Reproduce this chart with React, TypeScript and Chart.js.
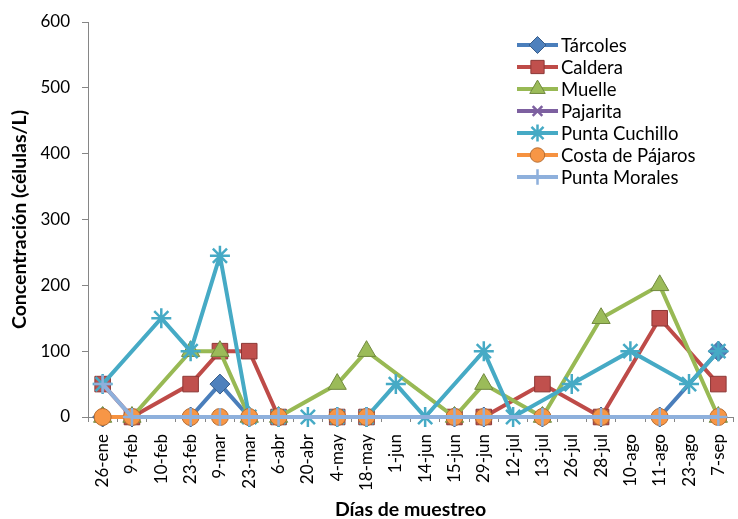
import React, { useEffect, useRef } from 'react';
import { Chart, registerables } from 'chart.js';
import { drawPoint } from 'chart.js/helpers';

Chart.register(...registerables);

const categories = [
  '26-ene', '9-feb', '10-feb', '23-feb', '9-mar', '23-mar', '6-abr', '20-abr', '4-may', '18-may', '1-jun',
  '14-jun', '15-jun', '29-jun', '12-jul', '13-jul', '26-jul', '28-jul', '10-ago', '11-ago', '23-ago', '7-sep',
];

const tarcoles = [0, 0, null, 0, 50, 0, 0, null, 0, 0, null, null, 0, 0, null, 0, null, 0, null, 0, null, 100];
const caldera = [50, 0, null, 50, 100, 100, 0, null, 0, 0, null, null, 0, 0, null, 50, null, 0, null, 150, null, 50];
const muelle = [0, 0, null, 100, 100, 0, 0, null, 50, 100, null, null, 0, 50, null, 0, null, 150, null, 200, null, 0];
const pajarita = [0, 0, null, 0, 0, 0, 0, null, 0, 0, null, null, 0, 0, null, 0, null, 0, null, 0, null, 0];
const puntaCuchillo = [50, null, 150, 100, 245, 0, 0, 0, 0, 0, 50, 0, null, 100, 0, null, 50, null, 100, null, 50, 100];
const costaPajaros = [0, 0, null, 0, 0, 0, 0, null, 0, 0, null, null, 0, 0, null, 0, null, 0, null, 0, null, 0];
const puntaMorales = [50, 0, null, 0, 0, 0, 0, null, 0, 0, null, null, 0, 0, null, 0, null, 0, null, 0, null, 0];

const yTicks = [0, 100, 200, 300, 400, 500, 600];

const FONT = 'Lato, "Noto Sans", sans-serif';

const legendPlugin = {
  id: 'insideLegend',
  afterDraw(chart: any) {
    const ctx = chart.ctx;
    chart.data.datasets.forEach((ds: any, i: number) => {
      const y = 45 + i * 22;
      ctx.save();
      ctx.strokeStyle = ds.borderColor;
      ctx.lineWidth = 4;
      ctx.beginPath();
      ctx.moveTo(517, y);
      ctx.lineTo(558, y);
      ctx.stroke();
      ctx.fillStyle = ds.pointBackgroundColor;
      ctx.strokeStyle = ds.pointBorderColor;
      ctx.lineWidth = ds.pointBorderWidth;
      drawPoint(ctx, { pointStyle: ds.pointStyle, radius: ds.pointRadius * 0.85, rotation: 0, borderWidth: ds.pointBorderWidth } as any, 537.5, y);
      ctx.fillStyle = '#000';
      ctx.font = '18.5px ' + FONT;
      ctx.textBaseline = 'middle';
      ctx.textAlign = 'left';
      ctx.fillText(ds.label, 561, y + 1);
      ctx.restore();
    });
  },
};

function series(label: string, data: (number | null)[], line: string, fill: string, border: string, style: string, radius: number, bw: number, order: number) {
  return {
    label,
    data,
    borderColor: line,
    backgroundColor: line,
    borderWidth: 4,
    pointStyle: style,
    pointRadius: radius,
    pointBackgroundColor: fill,
    pointBorderColor: border,
    pointBorderWidth: bw,
    spanGaps: true,
    tension: 0,
    clip: false,
    order,
  };
}

export default function App() {
  const ref = useRef<HTMLCanvasElement>(null);
  useEffect(() => {
    if (!ref.current) return;
    const chart = new Chart(ref.current, {
      type: 'line',
      data: {
        labels: categories,
        datasets: [
          series('Tárcoles', tarcoles, '#4A7EBB', '#4F81BD', '#385D8A', 'rectRot', 10, 1, 7),
          series('Caldera', caldera, '#BE4B48', '#C0504D', '#8C3836', 'rect', 11, 1, 6),
          series('Muelle', muelle, '#98B954', '#9BBB59', '#71893F', 'triangle', 10.5, 1, 5),
          series('Pajarita', pajarita, '#7D60A0', '#8064A2', '#7D60A0', 'crossRot', 8, 2.5, 4),
          series('Punta Cuchillo', puntaCuchillo, '#46AAC5', '#4BACC6', '#46AAC5', 'star', 10, 2.5, 3),
          series('Costa de Pájaros', costaPajaros, '#F69240', '#F79646', '#B66D31', 'circle', 8.5, 1, 2),
          series('Punta Morales', puntaMorales, '#8EB0DC', '#95B3D7', '#8EB0DC', 'cross', 9, 2.5, 1),
        ],
      },
      options: {
        animation: false,
        responsive: true,
        maintainAspectRatio: false,
        layout: { autoPadding: false, padding: { top: 22, right: 5, left: 0, bottom: 0 } },
        plugins: { legend: { display: false }, tooltip: { enabled: false } },
        scales: {
          x: {
            offset: true,
            grid: { offset: true, drawOnChartArea: false, tickLength: 5, color: '#868686' },
            border: { color: '#868686', width: 1 },
            ticks: {
              autoSkip: false,
              minRotation: 90,
              maxRotation: 90,
              padding: 12,
              color: '#000',
              font: { family: FONT, size: 17 },
            },
            title: {
              display: true,
              text: 'Días de muestreo',
              color: '#000',
              font: { family: FONT, size: 19.5, weight: 'bold', lineHeight: 1.0 },
              padding: { top: 0, bottom: 0 },
            },
            afterFit: (s: any) => { s.height = 102; s.paddingLeft = 0; s.paddingRight = 0; },
          },
          y: {
            min: 0,
            max: 600,
            afterBuildTicks: (s: any) => { s.ticks = yTicks.map((v) => ({ value: v })); },
            grid: { drawOnChartArea: false, tickLength: 6, color: '#868686' },
            border: { color: '#868686', width: 1 },
            ticks: {
              padding: 12,
              color: '#000',
              font: { family: FONT, size: 17 },
            },
            title: {
              display: true,
              text: 'Concentración (células/L)',
              color: '#000',
              font: { family: FONT, size: 19.5, weight: 'bold', lineHeight: 1.0 },
              padding: { top: 10, bottom: 0 },
            },
            afterFit: (s: any) => { s.width = 88; s.paddingTop = 0; s.paddingBottom = 0; },
          },
        },
      },
      plugins: [legendPlugin],
    });
    return () => chart.destroy();
  }, []);
  return (
    <div style={{ position: 'fixed', left: 0, top: 0, width: 738, height: 519, background: '#fff' }}>
      <canvas ref={ref} />
    </div>
  );
}
